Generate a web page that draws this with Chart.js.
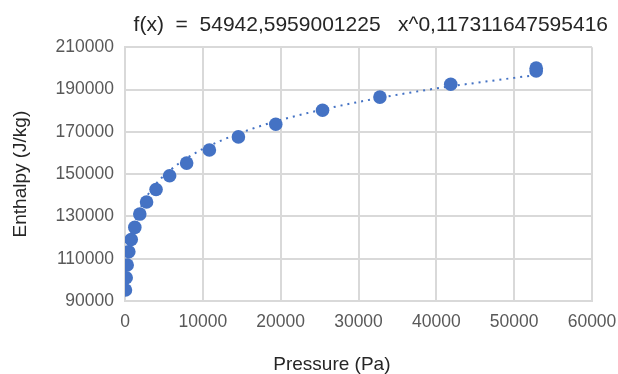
<!DOCTYPE html>
<html>
<head>
<meta charset="utf-8">
<script src="https://cdn.jsdelivr.net/npm/chart.js@4/dist/chart.umd.min.js"></script>
<style>
  html, body { margin: 0; padding: 0; background: #ffffff; }
  #wrap { width: 618px; height: 374px; position: relative; }
</style>
</head>
<body>
<div id="wrap"><canvas id="c" width="618" height="374"></canvas></div>
<script>
// Measured points (Pa, J/kg)
const pressure = [60, 150, 280, 490, 800, 1260, 1900, 2770, 3990, 5730, 7920, 10840, 14570, 19370, 25380, 32750, 41850, 52830, 52830];
const enthalpy = [95200, 101000, 107000, 113300, 119100, 124800, 131100, 136800, 142700, 149200, 155200, 161400, 167600, 173600, 180200, 186400, 192500, 198800, 200100];

// Dotted trendline
const trendPressure = [150, 300, 500, 1000, 2000, 4000, 6000, 8000, 10000, 15000, 20000, 25000, 30000, 35000, 40000, 45000, 50000, 52830];
const trendEnthalpy = [99000, 107300, 113900, 123500, 134000, 145400, 152400, 157700, 161900, 169700, 175600, 180200, 184100, 187500, 190500, 193100, 195500, 196800];

const titleText = "f(x)  =  54942,5959001225   x^0,117311647595416";
const xTitle = "Pressure (Pa)";
const yTitle = "Enthalpy (J/kg)";
const xTicks = [0, 10000, 20000, 30000, 40000, 50000, 60000];
const yTicks = [90000, 110000, 130000, 150000, 170000, 190000, 210000];

const FONT = "'Liberation Sans', Arial, sans-serif";
const BLUE = "#4472C4";
const GRID = "#d9d9d9";

const points = pressure.map((p, i) => ({ x: p, y: enthalpy[i] }));
const trend = trendPressure.map((p, i) => ({ x: p, y: trendEnthalpy[i] }));

const xTitlePlugin = {
  id: 'xTitlePlugin',
  afterDraw(chart) {
    const ctx = chart.ctx;
    const a = chart.chartArea;
    ctx.save();
    ctx.font = "19px " + FONT;
    ctx.fillStyle = "#262626";
    ctx.textAlign = "center";
    ctx.textBaseline = "alphabetic";
    ctx.fillText(xTitle, a.left + (a.right - a.left) * 0.443, 370);
    ctx.restore();
  }
};

new Chart(document.getElementById('c'), {
  type: 'scatter',
  data: {
    datasets: [
      {
        label: 'trend',
        type: 'line',
        data: trend,
        borderColor: BLUE,
        borderWidth: 2,
        borderDash: [2, 5],
        pointRadius: 0,
        fill: false,
        tension: 0.4,
        cubicInterpolationMode: 'monotone',
        order: 2
      },
      {
        label: 'data',
        data: points,
        backgroundColor: BLUE,
        borderColor: BLUE,
        pointRadius: 6.8,
        pointHoverRadius: 6.8,
        borderWidth: 0,
        order: 1
      }
    ]
  },
  options: {
    responsive: false,
    animation: false,
    devicePixelRatio: 1,
    layout: { padding: { left: 0, right: 10, top: 0, bottom: 0 } },
    plugins: {
      legend: { display: false },
      tooltip: { enabled: false },
      title: {
        display: true,
        text: titleText,
        align: 'end',
        color: '#262626',
        font: { family: FONT, size: 21, weight: 'normal' },
        padding: { top: 13, bottom: 9 }
      }
    },
    scales: {
      x: {
        type: 'linear',
        min: 0,
        max: 60000,
        afterBuildTicks(scale) { scale.ticks = xTicks.map(v => ({ value: v })); },
        afterFit(scale) { scale.height = 73; scale.paddingRight = 26; },
        grid: { color: GRID, lineWidth: 2, drawTicks: false },
        border: { color: GRID, width: 2 },
        ticks: {
          color: '#595959',
          font: { family: FONT, size: 17.5 },
          padding: 11,
          maxRotation: 0,
          callback: v => String(v)
        },
        title: { display: false }
      },
      y: {
        type: 'linear',
        min: 90000,
        max: 210000,
        afterBuildTicks(scale) { scale.ticks = yTicks.map(v => ({ value: v })); },
        afterFit(scale) { scale.width = 125; },
        grid: { color: GRID, lineWidth: 2, drawTicks: false },
        border: { color: GRID, width: 2 },
        ticks: {
          color: '#595959',
          font: { family: FONT, size: 17.5 },
          padding: 11,
          callback: v => String(v)
        },
        title: {
          display: true,
          text: yTitle,
          color: '#262626',
          font: { family: FONT, size: 19 },
          padding: { top: 9, bottom: 0 }
        }
      }
    }
  },
  plugins: [xTitlePlugin]
});
</script>
</body>
</html>
